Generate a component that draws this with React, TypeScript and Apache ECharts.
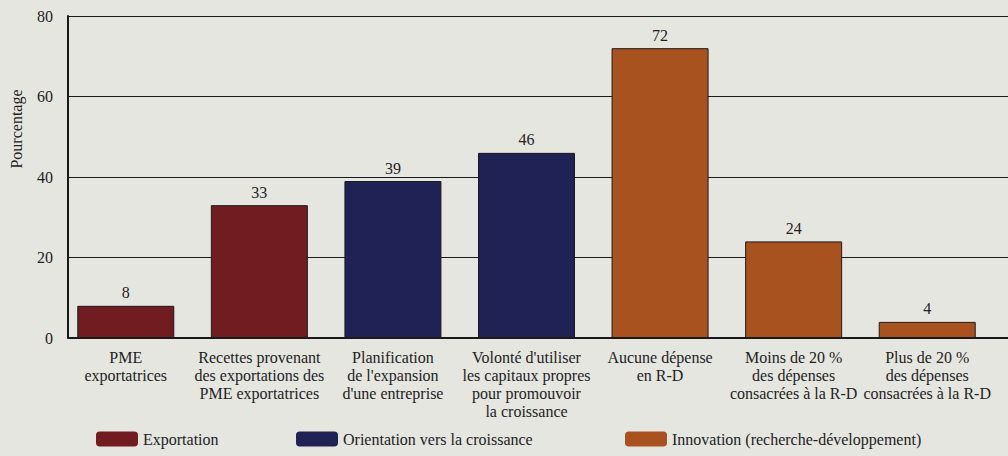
import React, { useEffect, useRef } from "react";
import * as echarts from "echarts";

const categories = [
  "PME\nexportatrices",
  "Recettes provenant\ndes exportations des\nPME exportatrices",
  "Planification\nde l'expansion\nd'une entreprise",
  "Volonté d'utiliser\nles capitaux propres\npour promouvoir\nla croissance",
  "Aucune dépense\nen R-D",
  "Moins de 20 %\ndes dépenses\nconsacrées à la R-D",
  "Plus de 20 %\ndes dépenses\nconsacrées à la R-D",
];
const seriesNames = ["Exportation", "Orientation vers la croissance", "Innovation (recherche-développement)"];
const exportation = [8, 33, "-", "-", "-", "-", "-"];
const croissance = ["-", "-", 39, 46, "-", "-", "-"];
const innovation = ["-", "-", "-", "-", 72, 24, 4];
const yTicks = [0, 20, 40, 60, 80];
const colors = ["#701c21", "#202255", "#a8531f"];

const FONT = "Liberation Serif";

export default function App() {
  const ref = useRef<HTMLDivElement>(null);
  useEffect(() => {
    const chart = echarts.init(ref.current!, null, { renderer: "svg" });
    const mk = (name: string, data: any[], color: string) => ({
      name,
      type: "bar",
      stack: "all",
      xAxisIndex: 1,
      yAxisIndex: 1,
      data,
      barWidth: 97,
      itemStyle: { color, borderColor: "#1a1a1a", borderWidth: 1 },
      label: {
        show: true,
        position: "top",
        distance: 5,
        color: "#222",
        fontFamily: FONT,
        fontSize: 16,
      },
    });
    const legendBase = {
      top: 426,
      itemWidth: 42,
      itemHeight: 15,
      textStyle: { fontFamily: FONT, fontSize: 16, color: "#222" },
      itemStyle: { borderWidth: 0 },
    };
    chart.setOption({
      animation: false,
      backgroundColor: "#e6e6e1",
      textStyle: { fontFamily: FONT },
      grid: [
        { left: 68, right: 0, top: 16, bottom: 118, containLabel: false },
        { left: 59, right: 14, top: 16, bottom: 118, containLabel: false },
      ],
      legend: [
        { ...legendBase, left: 91, data: [seriesNames[0]] },
        { ...legendBase, left: 291, data: [seriesNames[1]] },
        { ...legendBase, left: 620, data: [seriesNames[2]] },
      ],
      xAxis: [
        { type: "category", gridIndex: 0, data: categories, show: false },
        {
          type: "category",
          gridIndex: 1,
          data: categories,
          axisLine: { show: false },
          axisTick: { show: false },
          axisLabel: {
            interval: 0,
            margin: 10,
            fontFamily: FONT,
            fontSize: 16,
            lineHeight: 18,
            color: "#222",
          },
        },
      ],
      yAxis: [
        {
          type: "value",
          gridIndex: 0,
          min: 0,
          max: 80,
          interval: 20,
          axisLine: { show: true, lineStyle: { color: "#1a1a1a", width: 2 } },
          axisTick: { show: false },
          splitLine: { show: true, lineStyle: { color: "#1a1a1a", width: 1 } },
          axisLabel: {
            margin: 15,
            fontFamily: FONT,
            fontSize: 16,
            color: "#222",
            formatter: (v: number) => (yTicks.includes(v) ? String(v) : ""),
          },
        },
        {
          type: "value",
          gridIndex: 1,
          min: 0,
          max: 80,
          interval: 20,
          show: false,
          splitLine: { show: false },
        },
      ],
      graphic: [
        {
          type: "text",
          x: 16,
          y: 129,
          rotation: Math.PI / 2,
          style: {
            text: "Pourcentage",
            font: `16px "Liberation Serif"`,
            fill: "#222",
            align: "center",
            verticalAlign: "middle",
          },
        },
        {
          type: "line",
          shape: { x1: 68, y1: 338, x2: 1008, y2: 338 },
          style: { stroke: "#1a1a1a", lineWidth: 2 },
          z: 10,
        },
      ],
      series: [
        mk(seriesNames[0], exportation, colors[0]),
        mk(seriesNames[1], croissance, colors[1]),
        mk(seriesNames[2], innovation, colors[2]),
      ],
    });
    return () => chart.dispose();
  }, []);
  return <div ref={ref} style={{ width: 1008, height: 456, position: "absolute", left: 0, top: 0 }} />;
}
